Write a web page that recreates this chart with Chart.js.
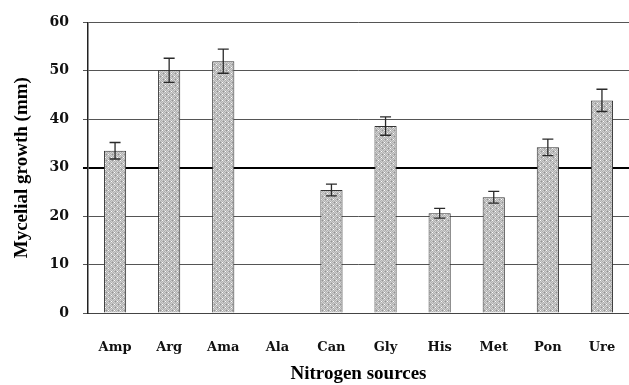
<!DOCTYPE html>
<html>
<head>
<meta charset="utf-8">
<script src="https://cdn.jsdelivr.net/npm/chart.js@4"></script>
<style>
  body { margin: 0; background: #fff; }
  #wrap { width: 629px; height: 385px; position: relative; }
</style>
</head>
<body>
<div id="wrap"><canvas id="BarChart"></canvas></div>
<script>
const source_labels = ['Amp', 'Arg', 'Ama', 'Ala', 'Can', 'Gly', 'His', 'Met', 'Pon', 'Ure'];
const growth_values = [33.5, 50.1, 52.0, 0, 25.4, 38.6, 20.6, 23.9, 34.2, 43.9];
const growth_errors = [1.7, 2.5, 2.5, 0, 1.2, 1.9, 1.0, 1.2, 1.7, 2.3];
const y_ticks = [0, 10, 20, 30, 40, 50, 60];

// dotted grey fill like the original bars
function makePattern() {
    const c = document.createElement('canvas');
    c.width = 6;
    c.height = 6;
    const g = c.getContext('2d');
    g.fillStyle = '#b0b0b0';
    g.fillRect(0, 0, 6, 6);
    g.fillStyle = '#d0d0d0';
    for (let i = 0; i < 6; i++) {
        for (let j = 0; j < 6; j++) {
            if ((i + j) % 2 === 0) g.fillRect(i, j, 1, 1);
        }
    }
    g.fillStyle = '#959595';
    g.fillRect(1, 1, 1, 1);
    g.fillRect(4, 4, 1, 1);
    g.fillStyle = '#ffffff';
    g.fillRect(3, 1, 1, 1);
    g.fillRect(0, 4, 1, 1);
    return g.createPattern(c, 'repeat');
}

const errorBars = {
    id: 'errorBars',
    afterDatasetsDraw(chart) {
        const ctx = chart.ctx;
        const y = chart.scales.y;
        const meta = chart.getDatasetMeta(0);
        ctx.save();
        ctx.strokeStyle = '#2a2a2a';
        ctx.lineWidth = 1.3;
        meta.data.forEach((bar, i) => {
            const e = growth_errors[i];
            if (!e) return;
            const v = growth_values[i];
            const top = y.getPixelForValue(v + e);
            const bot = y.getPixelForValue(v - e);
            const x = bar.x;
            ctx.beginPath();
            ctx.moveTo(x, top);
            ctx.lineTo(x, bot);
            ctx.moveTo(x - 5.5, top);
            ctx.lineTo(x + 5.5, top);
            ctx.moveTo(x - 5.5, bot);
            ctx.lineTo(x + 5.5, bot);
            ctx.stroke();
        });
        ctx.restore();
    }
};

const bar_data = {
    labels: source_labels,
    datasets: [{
        label: 'Mycelial growth',
        data: growth_values,
        backgroundColor: makePattern(),
        borderColor: '#333333',
        borderWidth: 1,
        barPercentage: 0.41,
        categoryPercentage: 1
    }]
};

const configBar = {
    type: 'bar',
    data: bar_data,
    options: {
        responsive: true,
        maintainAspectRatio: false,
        animation: false,
        layout: { padding: { top: 21, right: 0, left: 0, bottom: 0 } },
        plugins: {
            legend: { display: false },
            tooltip: { enabled: false }
        },
        scales: {
            x: {
                grid: { display: false },
                border: { color: '#444', width: 1 },
                ticks: {
                    color: '#111',
                    padding: 19,
                    font: { family: 'DejaVu Serif', size: 13, weight: 'bold' }
                },
                title: {
                    display: true,
                    text: 'Nitrogen sources',
                    color: '#000',
                    padding: { top: 0, bottom: 0 },
                    font: { family: 'Liberation Serif', size: 19, weight: 'bold' }
                },
                afterFit(scale) {
                    scale.height = 72;
                    scale.paddingLeft = 0;
                    scale.paddingRight = 0;
                }
            },
            y: {
                min: 0,
                max: 60,
                afterBuildTicks(scale) {
                    scale.ticks = y_ticks.map(v => ({ value: v }));
                },
                grid: {
                    color: ctx => ctx.tick && ctx.tick.value === 30 ? '#000' : '#555',
                    lineWidth: ctx => ctx.tick && ctx.tick.value === 30 ? 2 : 1,
                    tickLength: 5
                },
                border: { color: '#222', width: 1.5 },
                ticks: {
                    color: '#111',
                    padding: 14,
                    font: { family: 'DejaVu Serif', size: 14, weight: 'bold' }
                },
                title: {
                    display: true,
                    text: 'Mycelial growth (mm)',
                    color: '#000',
                    padding: { top: 11, bottom: 0 },
                    font: { family: 'Liberation Serif', size: 19, weight: 'bold' }
                },
                afterFit(scale) { scale.width = 88; }
            }
        }
    },
    plugins: [errorBars]
};

const BarChart = new Chart(
    document.getElementById('BarChart'),
    configBar
);
</script>
</body>
</html>
